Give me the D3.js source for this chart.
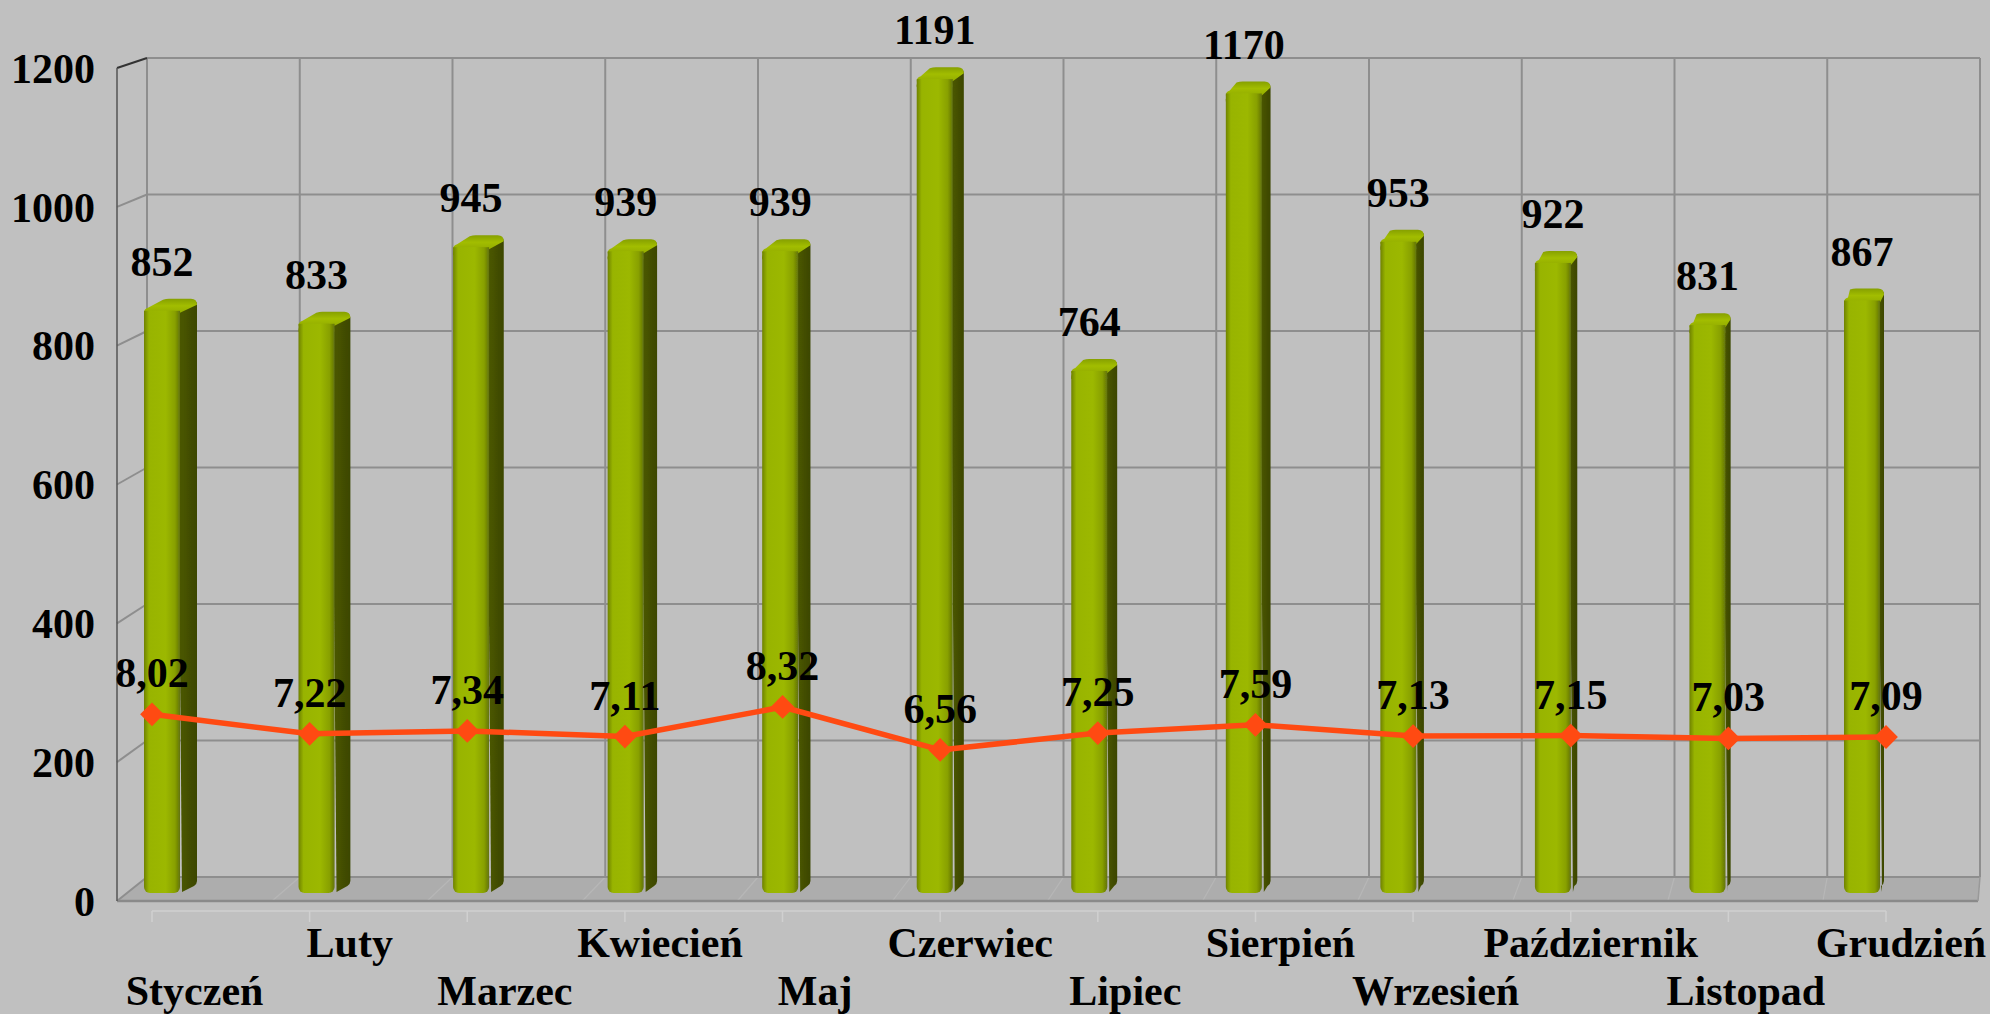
<!DOCTYPE html>
<html><head><meta charset="utf-8">
<script src="https://cdn.jsdelivr.net/npm/d3@7"></script>
<style>
html,body{margin:0;padding:0;background:#c0c0c0;}
svg{display:block;}
text{font-family:"Liberation Serif","Times New Roman",serif;font-weight:bold;fill:#000;}
</style></head>
<body>
<svg id="chart" width="1990" height="1014"></svg>
<script>
const months = ["Styczeń","Luty","Marzec","Kwiecień","Maj","Czerwiec","Lipiec","Sierpień","Wrzesień","Październik","Listopad","Grudzień"];
const counts = [852,833,945,939,939,1191,764,1170,953,922,831,867];
const rates = [8.02,7.22,7.34,7.11,8.32,6.56,7.25,7.59,7.13,7.15,7.03,7.09];
const yTicks = [0,200,400,600,800,1000,1200];

const svg = d3.select("#chart");
const W = 1990, H = 1014;
svg.append("rect").attr("width",W).attr("height",H).attr("fill","#c0c0c0");

// scales (3D box: front plane / back wall / bar plane)
const yFront = d3.scaleLinear().domain([0,1200]).range([901,68]);
const yBack  = d3.scaleLinear().domain([0,1200]).range([877,58]);
const yBar   = d3.scaleLinear().domain([0,1200]).range([893,73]);
const xBackEdges = d3.scaleLinear().domain([0,12]).range([147,1980]);
const xFrontEdges = d3.scaleLinear().domain([0,12]).range([117,1978]);
const xBar = d3.scalePoint().domain(months).range([162,1862]);
const xLabel = d3.scalePoint().domain(months).range([194.6,1901]);
const xLine = d3.scalePoint().domain(months).range([152,1886]);
const y2 = d3.scaleLinear().domain([0,35]).range([910,56]);
const sideW = d3.scaleLinear().domain([0,11]).range([17,4]);
const fmt = d3.formatLocale({decimal:",",thousands:" ",grouping:[3],currency:["","zł"]}).format(".2f");

const defs = svg.append("defs");
const gf = defs.append("linearGradient").attr("id","gFront").attr("x1","0").attr("x2","1").attr("y1","0").attr("y2","0");
[[0,"#6f8200"],[0.14,"#98b400"],[0.6,"#9cb800"],[0.86,"#88a000"],[1,"#62730a"]].forEach(s=>gf.append("stop").attr("offset",s[0]).attr("stop-color",s[1]));
const gs = defs.append("linearGradient").attr("id","gSide").attr("x1","0").attr("x2","1").attr("y1","0").attr("y2","0");
[[0,"#4e5b05"],[1,"#3c4600"]].forEach(s=>gs.append("stop").attr("offset",s[0]).attr("stop-color",s[1]));
const gt = defs.append("linearGradient").attr("id","gTop").attr("x1","0").attr("x2","0").attr("y1","0").attr("y2","1");
[[0,"#86a000"],[0.5,"#a2bd00"],[1,"#93ad00"]].forEach(s=>gt.append("stop").attr("offset",s[0]).attr("stop-color",s[1]));
const soft = defs.append("filter").attr("id","soft").attr("x","-10%").attr("y","-10%").attr("width","120%").attr("height","120%");
soft.append("feGaussianBlur").attr("stdDeviation",0.7);

const grid = "#8e8e8e";
// floor
svg.append("path")
  .attr("d",`M${xFrontEdges(0)},${yFront(0)} L${xFrontEdges(12)},${yFront(0)} L${xBackEdges(12)},${yBack(0)} L${xBackEdges(0)},${yBack(0)} Z`)
  .attr("fill","#adadad");
svg.append("g").selectAll("line").data(d3.range(1,12)).join("line")
  .attr("x1",i=>xFrontEdges(i)).attr("y1",yFront(0)).attr("x2",i=>xBackEdges(i)).attr("y2",yBack(0))
  .attr("stroke","#b7b7b7").attr("stroke-width",1.2);

// back wall gridlines
const gGrid = svg.append("g");
gGrid.selectAll("line.h").data(yTicks).join("line").attr("class","h")
  .attr("x1",xBackEdges(0)).attr("x2",xBackEdges(12))
  .attr("y1",d=>yBack(d)).attr("y2",d=>yBack(d))
  .attr("stroke",grid).attr("stroke-width",2);
gGrid.selectAll("line.v").data(d3.range(0,13)).join("line").attr("class","v")
  .attr("x1",i=>xBackEdges(i)).attr("x2",i=>xBackEdges(i))
  .attr("y1",yBack(1200)).attr("y2",yBack(0))
  .attr("stroke",grid).attr("stroke-width",2);
gGrid.selectAll("line.s").data(yTicks.slice(1)).join("line").attr("class","s")
  .attr("x1",xFrontEdges(0)).attr("x2",xBackEdges(0))
  .attr("y1",d=>yFront(d)).attr("y2",d=>yBack(d))
  .attr("stroke",d=>d===1200?"#333":grid).attr("stroke-width",2);
svg.append("line").attr("x1",xFrontEdges(0)).attr("x2",xBackEdges(0)).attr("y1",yFront(0)).attr("y2",yBack(0)).attr("stroke",grid).attr("stroke-width",2);
svg.append("line").attr("x1",xFrontEdges(0)).attr("x2",xFrontEdges(12)).attr("y1",yFront(0)).attr("y2",yFront(0)).attr("stroke","#8a8a8a").attr("stroke-width",2.5);
svg.append("line").attr("x1",xFrontEdges(12)).attr("x2",xBackEdges(12)).attr("y1",yFront(0)).attr("y2",yBack(0)).attr("stroke","#999").attr("stroke-width",1.5);
svg.append("line").attr("x1",xFrontEdges(0)).attr("x2",xFrontEdges(0)).attr("y1",yFront(1200)).attr("y2",yFront(0)).attr("stroke","#555").attr("stroke-width",1.5);

// light category axis under floor
svg.append("line").attr("x1",xLine(months[0])).attr("x2",xLine(months[11])).attr("y1",911).attr("y2",911).attr("stroke","#d0d0d0").attr("stroke-width",1.5);
svg.append("g").selectAll("line").data(months).join("line")
  .attr("x1",d=>xLine(d)).attr("x2",d=>xLine(d)).attr("y1",911).attr("y2",922)
  .attr("stroke","#d0d0d0").attr("stroke-width",1.5);

// bars
const fw = 36, dz = 12;
const gBars = svg.append("g").attr("filter","url(#soft)");
months.forEach((m,i)=>{
  const x0 = xBar(m) - fw/2, x1 = xBar(m) + fw/2, s = sideW(i);
  const yt = yBar(counts[i]), yb = yBar(0);
  const g = gBars.append("g");
  g.append("path").attr("d",`M${x1-3},${yt} L${x1+s-2},${yt-dz+2} Q${x1+s},${yt-dz+3} ${x1+s},${yt-dz+6} L${x1+s},${yb-dz} Q${x1+s},${yb-dz+3} ${x1+s-3},${yb-dz+5} L${x1+2},${yb-1} Z`)
    .attr("fill","url(#gSide)");
  g.append("path").attr("d",`M${x0},${yt+2} Q${x0},${yt-2} ${x0+4},${yt-3} L${x0+s+2},${yt-dz+1} Q${x0+s+5},${yt-dz} ${x0+s+8},${yt-dz} L${x1+s-6},${yt-dz} Q${x1+s},${yt-dz} ${x1+s},${yt-dz+6} L${x1},${yt+2} Z`)
    .attr("fill","url(#gTop)");
  g.append("rect").attr("x",x0).attr("y",yt).attr("width",fw).attr("height",yb-yt).attr("rx",6).attr("ry",6)
    .attr("fill","url(#gFront)");
  g.append("rect").attr("x",x0).attr("y",yt).attr("width",fw).attr("height",8).attr("fill","url(#gFront)");
});

// bar value labels
svg.append("g").selectAll("text").data(counts).join("text")
  .attr("x",(d,i)=>xBar(months[i])).attr("y",d=>yBar(d)-35)
  .attr("text-anchor","middle").attr("font-size",42).text(d=>d);

// line series
const line = d3.line().x((d,i)=>xLine(months[i])).y(d=>y2(d));
svg.append("path").datum(rates).attr("d",line).attr("fill","none").attr("stroke","#ff4a12").attr("stroke-width",5.5).attr("stroke-linejoin","round");
svg.append("g").selectAll("path").data(rates).join("path")
  .attr("transform",(d,i)=>`translate(${xLine(months[i])},${y2(d)})`)
  .attr("d",d3.symbol(d3.symbolDiamond2, 360)())
  .attr("fill","#ff4a12");
svg.append("g").selectAll("text").data(rates).join("text")
  .attr("x",(d,i)=>xLine(months[i])).attr("y",d=>y2(d)-27)
  .attr("text-anchor","middle").attr("font-size",42).text(d=>fmt(d));

// y axis labels
svg.append("g").selectAll("text").data(yTicks).join("text")
  .attr("x",95).attr("y",d=>yFront(d)).attr("dy","0.35em")
  .attr("text-anchor","end").attr("font-size",42).text(d=>d);

// category labels (staggered)
svg.append("g").selectAll("text").data(months).join("text")
  .attr("x",d=>xLabel(d)).attr("y",(d,i)=>i%2===0?1005:957)
  .attr("text-anchor","middle").attr("font-size",42).text(d=>d);
</script>
</body></html>
